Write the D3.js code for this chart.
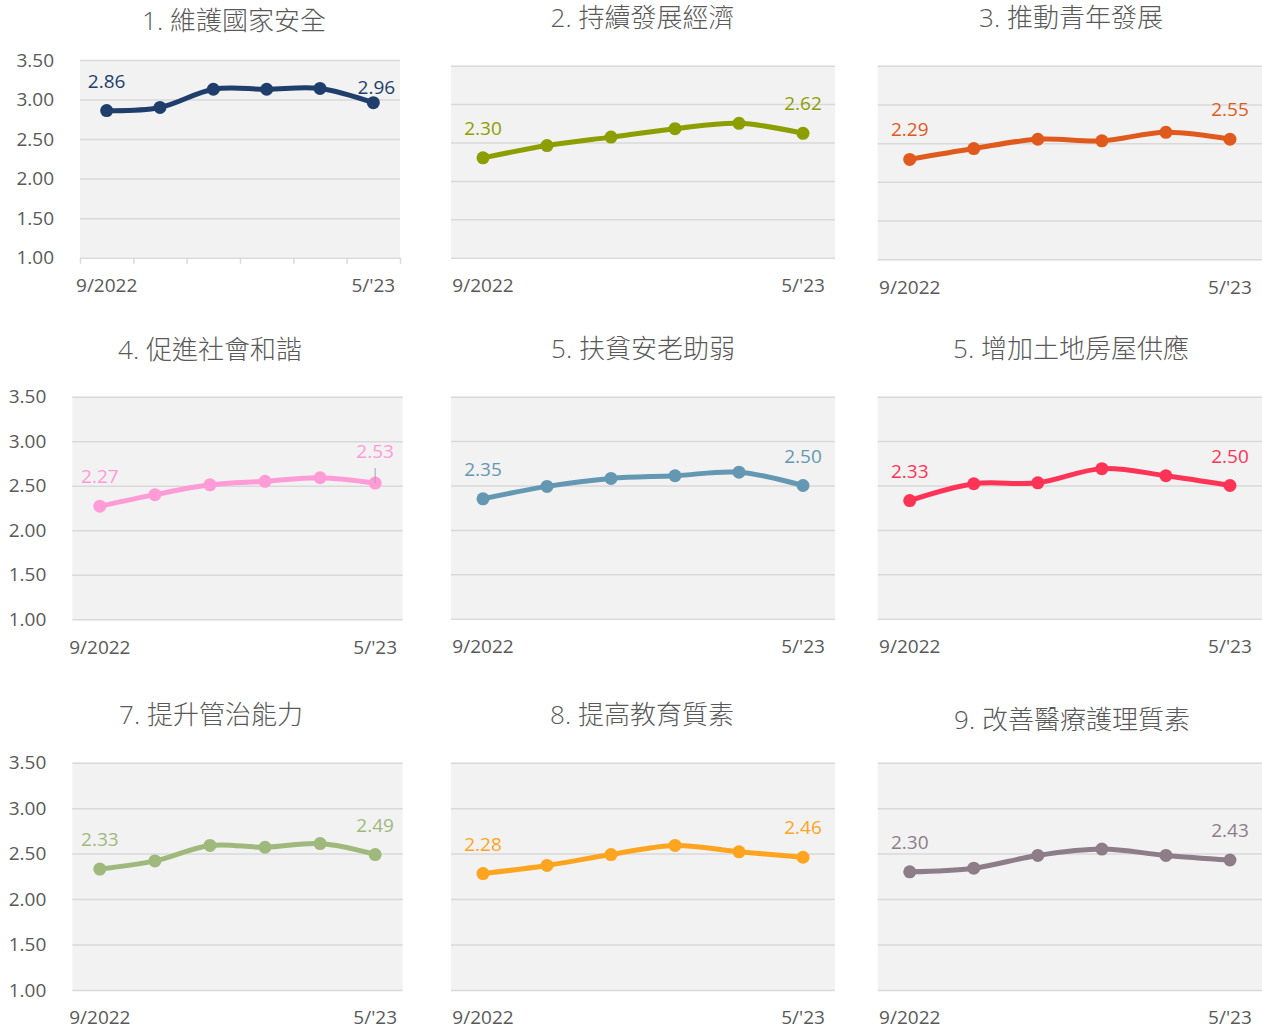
<!DOCTYPE html>
<html>
  <head>
    <meta charset="utf-8">
    <title>Small multiples</title>
    <script src="https://d3js.org/d3.v7.min.js"></script>
    <style>
      body { margin: 0; background: #fff; }
      .title { font-family: "Open Sans", "Noto Sans CJK TC", sans-serif; font-size: 26px; fill: #595959; font-weight: 300; }
      .tick text { font-family: "Open Sans", sans-serif; font-size: 19px; fill: #595959; }
      .grid line { stroke: #d9d9d9; stroke-width: 1.5; }
      .vlabel { font-family: "Open Sans", sans-serif; font-size: 19px; }
    </style>
  </head>
  <body>
    <div id="chart"></div>
    <script>
      // data
      var tickLabels = ["9/2022", "", "", "", "", "5/'23"];
      var yTicks = [1.00, 1.50, 2.00, 2.50, 3.00, 3.50];

      var titles = [
        "1. 維護國家安全", "2. 持續發展經濟", "3. 推動青年發展",
        "4. 促進社會和諧", "5. 扶貧安老助弱", "5. 增加土地房屋供應",
        "7. 提升管治能力", "8. 提高教育質素", "9. 改善醫療護理質素"
      ];
      var colors = ["#1f3e6c", "#8c9e00", "#e05a1e", "#ff9bd6", "#6497b1",
                    "#ff3356", "#9fb97d", "#ffa41f", "#8c7d88"];

      var s1 = [2.86, 2.90, 3.13, 3.13, 3.14, 2.96];
      var s2 = [2.30, 2.46, 2.57, 2.68, 2.75, 2.62];
      var s3 = [2.29, 2.43, 2.55, 2.53, 2.64, 2.55];
      var s4 = [2.27, 2.40, 2.51, 2.55, 2.59, 2.53];
      var s5 = [2.35, 2.49, 2.58, 2.61, 2.65, 2.50];
      var s6 = [2.33, 2.52, 2.53, 2.69, 2.61, 2.50];
      var s7 = [2.33, 2.42, 2.59, 2.57, 2.61, 2.49];
      var s8 = [2.28, 2.37, 2.49, 2.59, 2.52, 2.46];
      var s9 = [2.30, 2.34, 2.48, 2.55, 2.48, 2.43];
      var series = [s1, s2, s3, s4, s5, s6, s7, s8, s9];

      // layout of each panel (plot box, title spot, tweaks)
      var panels = [
        {x0: 80, x1: 400, y0: 60, y1: 257.7, tx: 234, ty: 30, yAxis: true, ticks: true, last: {dx: 3, dy: -9}},
        {x0: 451, x1: 835, y0: 65.7, y1: 257.7, tx: 642.5, ty: 27},
        {x0: 877.7, x1: 1262, y0: 65.7, y1: 259.3, tx: 1071, ty: 27},
        {x0: 72.3, x1: 402.7, y0: 396.7, y1: 619.3, tx: 210, ty: 359, yAxis: true, last: {dx: 0, dy: -25}, leader: true},
        {x0: 451, x1: 835, y0: 396.7, y1: 618.7, tx: 643, ty: 358},
        {x0: 877.7, x1: 1262, y0: 396.7, y1: 618.7, tx: 1071, ty: 358},
        {x0: 72.3, x1: 402.7, y0: 762.7, y1: 990, tx: 211, ty: 724, yAxis: true},
        {x0: 451, x1: 835, y0: 762.7, y1: 990, tx: 642, ty: 724},
        {x0: 877.7, x1: 1262, y0: 762.7, y1: 990, tx: 1072, ty: 729}
      ];

      var width = 1262, height = 1029;

      var svg = d3.select("#chart")
        .append("svg")
          .attr("width", width)
          .attr("height", height);

      var fmt = d3.format(".2f");

      panels.forEach(function(p, k) {
        var values = series[k];
        var color = colors[k];

        var x = d3.scaleBand()
          .domain(d3.range(values.length))
          .range([p.x0, p.x1]);

        var y = d3.scaleLinear()
          .domain([1, 3.5])
          .range([p.y1, p.y0]);

        var g = svg.append("g");

        g.append("rect")
          .attr("x", p.x0)
          .attr("y", p.y0)
          .attr("width", p.x1 - p.x0)
          .attr("height", p.y1 - p.y0)
          .attr("fill", "#f2f2f2");

        // gridlines + y labels
        var yAxis = d3.axisLeft(y)
          .tickValues(yTicks)
          .tickSize(-(p.x1 - p.x0))
          .tickPadding(26)
          .tickFormat(function(d) { return p.yAxis ? fmt(d) : ""; });

        g.append("g")
          .attr("class", "grid")
          .attr("transform", "translate(" + p.x0 + ",0)")
          .call(yAxis)
          .call(function(s) { s.select(".domain").remove(); });

        // x labels
        var xAxis = d3.axisBottom(x)
          .tickSize(0)
          .tickPadding(21)
          .tickFormat(function(i) { return tickLabels[i]; });

        g.append("g")
          .attr("transform", "translate(0," + p.y1 + ")")
          .call(xAxis)
          .call(function(s) { s.select(".domain").remove(); });

        if (p.ticks) {
          var xb = d3.scaleLinear().domain([0, values.length]).range([p.x0, p.x1]);
          g.append("g")
            .attr("class", "grid")
            .attr("transform", "translate(0," + p.y1 + ")")
            .call(d3.axisBottom(xb).ticks(values.length).tickSize(6).tickFormat(""))
            .call(function(s) { s.select(".domain").remove(); });
        }

        // title
        g.append("text")
          .attr("class", "title")
          .attr("x", p.tx)
          .attr("y", p.ty)
          .attr("text-anchor", "middle")
          .text(titles[k]);

        var cx = function(d, i) { return x(i) + x.bandwidth() / 2; };

        var line = d3.line()
          .x(cx)
          .y(function(d) { return y(d); })
          .curve(d3.curveCardinal.tension(0));

        g.append("path")
          .datum(values)
          .attr("d", line)
          .attr("fill", "none")
          .attr("stroke", color)
          .attr("stroke-width", 5)
          .attr("stroke-linejoin", "round");

        g.selectAll("circle")
          .data(values)
          .enter().append("circle")
            .attr("cx", cx)
            .attr("cy", function(d) { return y(d); })
            .attr("r", 6.5)
            .attr("fill", color);

        // first and last value labels
        var n = values.length;
        [0, n - 1].forEach(function(i) {
          var adj = (i === n - 1 && p.last) ? p.last : {dx: 0, dy: -23};
          var px = x(i) + x.bandwidth() / 2;
          var py = y(values[i]);
          if (i === n - 1 && p.leader) {
            g.append("line")
              .attr("x1", px).attr("x2", px)
              .attr("y1", py + adj.dy + 10).attr("y2", py)
              .attr("stroke", "#a6a6a6")
              .attr("stroke-width", 1);
          }
          g.append("text")
            .attr("class", "vlabel")
            .attr("x", px + adj.dx)
            .attr("y", py + adj.dy)
            .attr("text-anchor", "middle")
            .attr("fill", color)
            .text(fmt(values[i]));
        });
      });
    </script>
  </body>
</html>
